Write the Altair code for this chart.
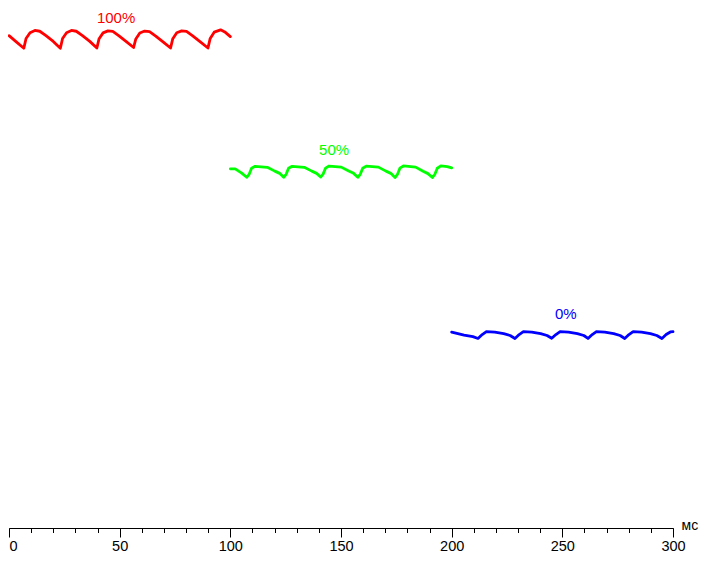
import altair as alt
import pandas as pd

# ---- data (time in ms, level in arbitrary units) ----
red_x = [0, 3.3, 6.7, 7.7, 9.5, 11.7, 13.9, 16.7, 20.0, 23.2, 24.2, 26.0, 28.2, 30.4, 33.2, 36.5,
         39.7, 40.7, 42.5, 44.7, 46.9, 49.7, 53.0, 56.3, 57.3, 59.1, 61.3, 63.5, 66.3, 69.6,
         73.0, 74.0, 75.8, 78.0, 80.2, 83.0, 86.3, 89.9, 90.9, 92.7, 95.6, 97.5, 100.0]
red_y = [94.69, 93.49, 92.27, 94.14, 95.25, 95.68, 95.53, 94.69, 93.58, 92.27, 94.14, 95.25, 95.68, 95.53, 94.69, 93.58,
         92.30, 94.10, 95.22, 95.60, 95.50, 94.65, 93.55, 92.40, 94.05, 95.20, 95.57, 95.45, 94.60, 93.50,
         92.30, 94.10, 95.25, 95.60, 95.50, 94.65, 93.55, 92.30, 94.15, 95.35, 95.80, 95.40, 94.50]

green_x = [100.0, 102.2, 105.0, 107.4, 108.5, 109.6, 111.2, 116.7, 120.1, 122.3, 124.1, 125.2, 126.3, 127.9,
           133.4, 136.8, 139.0, 140.8, 141.9, 143.0, 144.6, 150.1, 153.5, 155.7, 157.6, 158.7, 159.8, 161.4,
           166.9, 170.3, 172.5, 174.4, 175.5, 176.6, 178.2, 183.7, 187.1, 189.3, 191.3, 192.4, 193.5, 195.1,
           198.0, 200.0]
green_y = [69.07, 69.07, 68.30, 67.45, 68.01, 69.18, 69.56, 69.37, 68.63, 68.20, 67.45, 68.01, 69.18, 69.56,
           69.37, 68.63, 68.20, 67.50, 68.05, 69.20, 69.60, 69.40, 68.65, 68.20, 67.45, 68.01, 69.18, 69.60,
           69.40, 68.63, 68.20, 67.40, 68.00, 69.20, 69.62, 69.40, 68.60, 68.15, 67.40, 68.01, 69.18, 69.65,
           69.50, 69.25]

blue_x = [200.0, 205.6, 209.6, 211.9, 213.8, 215.7, 219.5, 223.5, 226.4, 228.6, 230.5, 232.4, 236.2, 240.2,
          243.1, 245.2, 247.1, 249.0, 252.8, 256.8, 259.7, 261.6, 263.5, 265.4, 269.2, 273.2, 276.1, 278.2,
          280.1, 282.0, 285.8, 289.8, 292.7, 295.0, 296.9, 298.8, 300.0]
blue_y = [37.67, 37.11, 36.79, 36.45, 37.20, 37.75, 37.65, 37.38, 37.02, 36.45, 37.20, 37.75, 37.65, 37.38,
          37.02, 36.48, 37.20, 37.75, 37.66, 37.38, 37.02, 36.45, 37.20, 37.75, 37.65, 37.38, 37.02, 36.45,
          37.20, 37.77, 37.66, 37.38, 37.02, 36.45, 37.20, 37.70, 37.75]

series_names = ["100%", "50%", "0%"]
series_colors = ["#ff0000", "#00ff00", "#0000ff"]
label_x = [48.4, 146.9, 251.6]
label_y = [97.1, 71.7, 40.2]

major_ticks = [0, 50, 100, 150, 200, 250, 300]
minor_ticks = [0, 10, 20, 30, 40, 50, 60, 70, 80, 90, 100, 110, 120, 130, 140, 150, 160, 170, 180, 190,
               200, 210, 220, 230, 240, 250, 260, 270, 280, 290, 300]

# ---- tables ----
rows = []
for name, xs, ys in zip(series_names, [red_x, green_x, blue_x], [red_y, green_y, blue_y]):
    for i, (xv, yv) in enumerate(zip(xs, ys)):
        rows.append({"series": name, "t": xv, "v": yv, "order": i})
lines_df = pd.DataFrame(rows)
labels_df = pd.DataFrame({"series": series_names, "t": label_x, "v": label_y})

FONT = "Liberation Sans"
x_scale = alt.Scale(domain=[0, 300], nice=False, zero=False)
y_scale = alt.Scale(domain=[0, 100], nice=False, zero=False)
color_scale = alt.Scale(domain=series_names, range=series_colors)

major_axis = alt.Axis(
    values=major_ticks, orient="bottom", grid=False,
    domain=True, domainColor="black", domainWidth=1,
    ticks=True, tickSize=9, tickColor="black", tickWidth=1,
    labelFont=FONT, labelFontSize=14.5, labelColor="black", labelPadding=2,
    labelAlign={"condition": {"test": "datum.value == 0", "value": "left"}, "value": "center"},
    labelOverlap=False,
    title="мс", titleFont=FONT, titleFontSize=14, titleFontWeight="normal", titleColor="black",
    titleX=672, titleY=1, titleAlign="left", titleBaseline="alphabetic", titleAngle=0,
)
minor_axis = alt.Axis(
    values=minor_ticks, orient="bottom", grid=False, domain=False,
    ticks=True, tickSize=4.5, tickColor="black", tickWidth=1,
    labels=False, title=None,
)

lines = alt.Chart(lines_df).mark_line(strokeWidth=2.8, strokeJoin="round", strokeCap="round").encode(
    x=alt.X("t:Q", scale=x_scale, axis=major_axis),
    y=alt.Y("v:Q", scale=y_scale, axis=None),
    color=alt.Color("series:N", scale=color_scale, legend=None),
    detail="series:N",
    order="order:Q",
)

labels = alt.Chart(labels_df).mark_text(font=FONT, fontSize=15, baseline="alphabetic", align="center").encode(
    x=alt.X("t:Q", scale=x_scale, axis=minor_axis),
    y=alt.Y("v:Q", scale=y_scale, axis=None),
    text="series:N",
    color=alt.Color("series:N", scale=color_scale, legend=None),
)

chart = alt.layer(lines, labels).resolve_axis(x="independent").properties(
    width=664, height=520,
    padding={"left": 1, "top": 0, "right": 26, "bottom": 27},
    autosize=alt.AutoSizeParams(type="none"),
    background="white",
).configure_view(stroke=None)

chart.save("out.html", embed_options={"renderer": "svg", "actions": False})
